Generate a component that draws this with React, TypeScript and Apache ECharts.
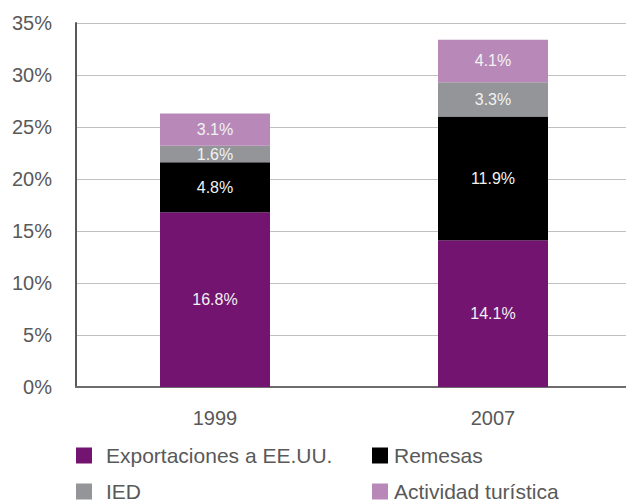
import React, { useEffect, useRef } from "react";
import * as echarts from "echarts";

const categories = ["1999", "2007"];
const seriesNames = ["Exportaciones a EE.UU.", "Remesas", "IED", "Actividad turística"];
const exportaciones = [16.8, 14.1];
const remesas = [4.8, 11.9];
const ied = [1.6, 3.3];
const turistica = [3.1, 4.1];
const yTicks = [0, 5, 10, 15, 20, 25, 30, 35];

const colors = ["#721470", "#000000", "#939598", "#b889b8"];
const FONT = "'Liberation Sans', Arial, sans-serif";

export default function App() {
  const ref = useRef<HTMLDivElement>(null);
  useEffect(() => {
    if (!ref.current) return;
    const chart = echarts.init(ref.current, undefined, { renderer: "svg" });
    const values = [exportaciones, remesas, ied, turistica];
    const legendPos = [
      { left: 76, top: 445, pad: 9 },
      { left: 372, top: 445, pad: 1 },
      { left: 76, top: 481, pad: 9 },
      { left: 372, top: 481, pad: 1 },
    ];
    chart.setOption({
      animation: false,
      textStyle: { fontFamily: FONT },
      grid: {
        left: 76,
        top: 23,
        right: -6,
        bottom: 115,
        containLabel: false,
        outerBoundsMode: "none",
      },
      legend: seriesNames.map((n, i) => ({
        data: [n],
        left: legendPos[i].left,
        top: legendPos[i].top,
        padding: 0,
        itemWidth: 16,
        itemHeight: 16,
        icon: "rect",
        selectedMode: false,
        textStyle: {
          fontSize: 21,
          lineHeight: 16,
          color: "#595959",
          fontFamily: FONT,
          padding: [0, 0, 0, legendPos[i].pad],
        },
      })),
      xAxis: {
        type: "category",
        data: categories,
        axisLine: { lineStyle: { color: "#6d6d6d", width: 2 } },
        axisTick: { show: false },
        axisLabel: { fontSize: 20, color: "#595959", margin: 21, fontFamily: FONT },
      },
      yAxis: {
        type: "value",
        min: yTicks[0],
        max: yTicks[yTicks.length - 1],
        interval: 5,
        axisLine: { show: true, lineStyle: { color: "#595959", width: 2 } },
        axisTick: { show: false },
        splitLine: { lineStyle: { color: "#c0c0c0", width: 1 } },
        axisLabel: {
          fontSize: 20,
          color: "#595959",
          margin: 24,
          fontFamily: FONT,
          formatter: (v: number) => `${v}%`,
        },
      },
      series: seriesNames.map((n, i) => ({
        name: n,
        type: "bar",
        stack: "total",
        barWidth: 110,
        data: values[i],
        itemStyle: { color: colors[i] },
        label: {
          show: true,
          position: "inside",
          color: "#f2f2f2",
          fontSize: 16,
          fontFamily: FONT,
          formatter: (p: any) => `${Number(p.value).toFixed(1)}%`,
        },
      })),
    });
    return () => chart.dispose();
  }, []);
  return <div ref={ref} style={{ width: 626, height: 502, position: "absolute", left: 0, top: 0 }} />;
}
